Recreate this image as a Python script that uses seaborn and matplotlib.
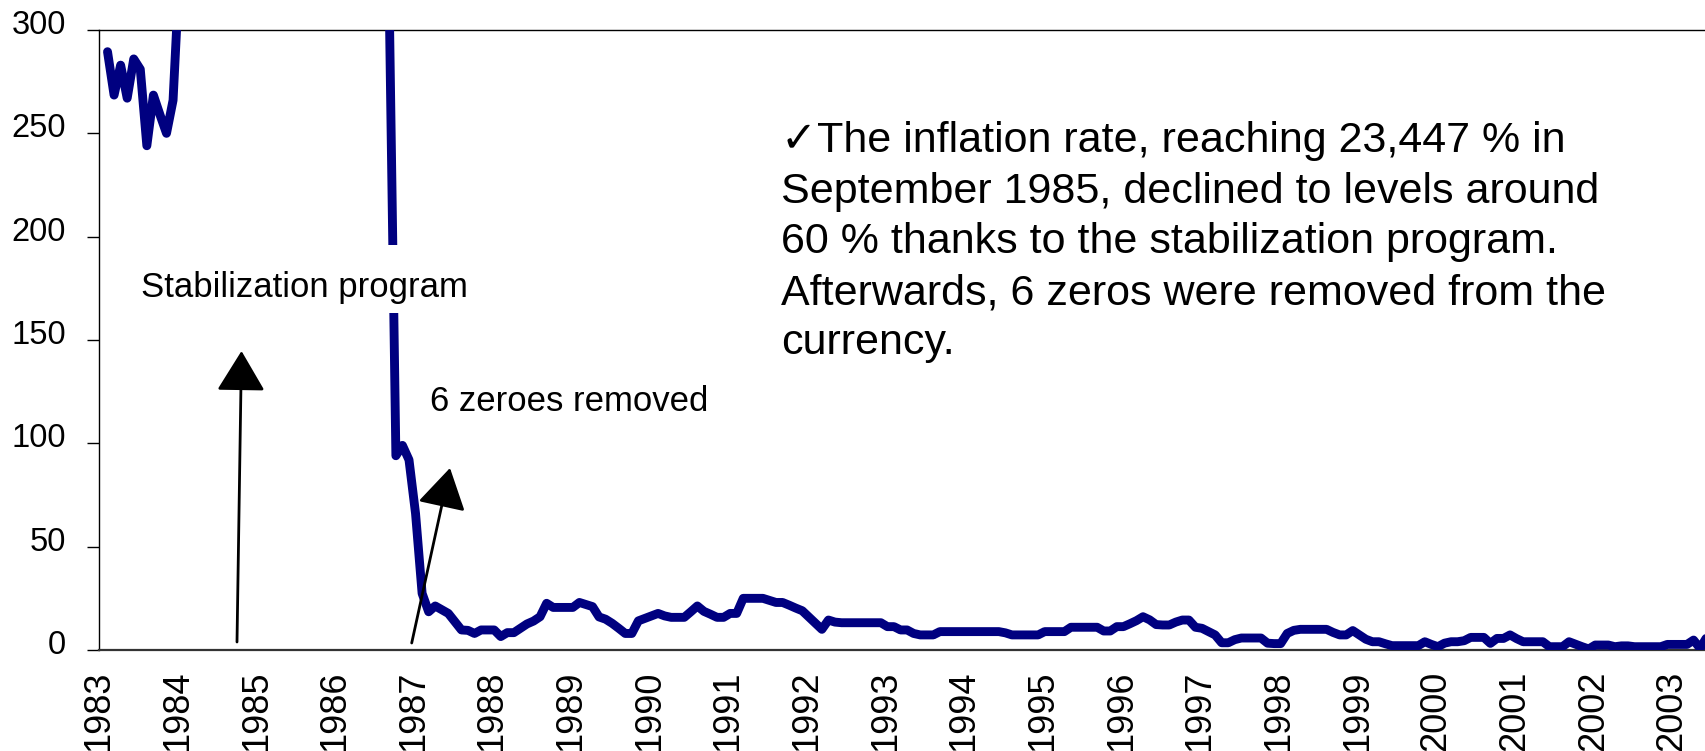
import numpy as np
import pandas as pd
import matplotlib
matplotlib.use("Agg")
import matplotlib.pyplot as plt
import matplotlib.transforms as mtransforms
from matplotlib.patches import ArrowStyle, Rectangle
import seaborn as sns

# ---------------- data (12-month inflation rate, %, monthly from Jan 1983) -------------
infl_1983 = [289.5, 268.5, 283, 267, 286, 281, 244, 268.5, 259, 250, 266, 330]
infl_1984 = [430, 520, 620, 820, 1000, 1200, 1300, 1400, 1500, 1700, 1900, 2177]
infl_1985 = [3000, 5000, 7000, 8000, 9000, 11000, 14000, 20000, 23447, 21000, 14000, 8170]
infl_1986 = [5500, 4000, 3000, 2000, 1500, 1000, 600, 310, 94, 99, 92, 66]
infl_1987 = [27.4, 18.5, 21.3, 19.5, 17.7, 13.7, 9.7, 9.5, 8, 9.7, 9.7, 9.7]
infl_1988 = [6.5, 8.4, 8.4, 10.5, 12.6, 14, 16.1, 22.6, 20.6, 20.6, 20.6, 20.6]
infl_1989 = [23, 22, 21, 16, 14.9, 12.9, 10.5, 8, 8, 14.1, 15.3, 16.5]
infl_1990 = [17.7, 16.5, 15.8, 15.8, 15.8, 18.5, 21.3, 18.7, 17.3, 15.8, 15.8, 17.7]
infl_1991 = [17.7, 25, 25, 25, 25, 24, 23, 23, 21.7, 20.3, 19, 16]
infl_1992 = [13, 10, 14.5, 13.5, 13.2, 13.2, 13.2, 13.2, 13.2, 13.2, 13.2, 11.3]
infl_1993 = [11.3, 9.7, 9.7, 8, 7.3, 7.3, 7.3, 8.9, 8.9, 8.9, 8.9, 8.9]
infl_1994 = [8.9, 8.9, 8.9, 8.9, 8.9, 8.3, 7.3, 7.3, 7.3, 7.3, 7.3, 8.9]
infl_1995 = [8.9, 8.9, 8.9, 11, 11, 11, 11, 11, 9.2, 9.2, 11.3, 11.3]
infl_1996 = [12.7, 14.2, 16.1, 14.6, 12.3, 12.1, 12.1, 13.5, 14.5, 14.5, 11, 10.5]
infl_1997 = [8.9, 7.3, 3.5, 3.5, 5, 5.8, 5.8, 5.8, 5.8, 3.3, 3.1, 3.1]
infl_1998 = [8, 9.5, 10, 10, 10, 10, 10, 8.5, 7.3, 7.3, 9.4, 7.3]
infl_1999 = [5.2, 4, 4, 3, 2.1, 2.1, 2.1, 2.1, 2.1, 4, 2.7, 1.6]
infl_2000 = [3.3, 4, 4, 4.5, 6.1, 6.1, 6.1, 3.2, 5.6, 5.6, 7.3, 5.5]
infl_2001 = [4, 4, 4, 4, 1.6, 1.6, 1.6, 4, 2.8, 1.6, 0.5, 2.4]
infl_2002 = [2.4, 2.4, 1.6, 2.0, 2.0, 1.6, 1.6, 1.6, 1.6, 1.6, 2.7, 2.7]
infl_2003 = [2.7, 2.7, 4.8, 0.8, 6.1]

yearly = [infl_1983, infl_1984, infl_1985, infl_1986, infl_1987, infl_1988, infl_1989,
          infl_1990, infl_1991, infl_1992, infl_1993, infl_1994, infl_1995, infl_1996,
          infl_1997, infl_1998, infl_1999, infl_2000, infl_2001, infl_2002, infl_2003]
inflation = [v for yr in yearly for v in yr]

year_labels = [str(y) for y in range(1983, 2004)]
y_ticks = [0, 50, 100, 150, 200, 250, 300]

text_block = [
    "\u2713The inflation rate, reaching 23,447 % in",
    "September 1985, declined to levels around",
    "60 % thanks to the stabilization program.",
    "Afterwards, 6 zeros were removed from the",
    "currency.",
]

# ---------------- figure -------------
sns.set_theme(style="white")
plt.rcParams["font.family"] = ["Liberation Sans", "DejaVu Sans"]

W, H = 1706, 751
fig = plt.figure(figsize=(W / 100, H / 100), dpi=100)
fig.patch.set_facecolor("white")
ax = fig.add_axes([99 / W, 1 - 650 / H, 1607 / W, 620 / H])

df = pd.DataFrame({"month": np.arange(len(inflation)), "inflation": inflation})
sns.lineplot(data=df, x="month", y="inflation", ax=ax, color="#000080",
             linewidth=6.4, solid_joinstyle="round", solid_capstyle="round", zorder=3)

n = len(inflation)
ax.set_xlim(-1.1, n - 1.1)
ax.set_ylim(0, 300)
ax.set_xlabel("")
ax.set_ylabel("")

ax.set_xticks([12 * k - 1.3 for k in range(len(year_labels))])
ax.set_xticklabels(year_labels, rotation=90, va="top")
ax.tick_params(axis="x", length=0, pad=15, labelsize=26, labelcolor="black")
ax.set_yticks(y_ticks)
ax.set_yticklabels([str(t) for t in y_ticks])
ax.tick_params(axis="y", direction="out", length=8.6, width=1, color="black",
               pad=15, left=True, labelsize=23.5, labelcolor="black")
offset = mtransforms.ScaledTranslation(0, 8 / 100, fig.dpi_scale_trans)
for lab in ax.get_yticklabels():
    lab.set_transform(lab.get_transform() + offset)

for side in ["left", "top"]:
    ax.spines[side].set_visible(True)
    ax.spines[side].set_color("black")
    ax.spines[side].set_linewidth(1.0)
ax.spines["right"].set_visible(False)
ax.spines["bottom"].set_color("#333333")
ax.spines["bottom"].set_linewidth(1.6)
ax.grid(False)

def fx(px):
    return px / W

def fy(py):
    return 1 - py / H

# white text box behind "Stabilization program"
fig.patches.append(Rectangle((fx(130), fy(313)), fx(480) - fx(130), (313 - 245) / H,
                             transform=fig.transFigure, facecolor="white",
                             edgecolor="none", zorder=8))

fig.text(fx(141), fy(297), "Stabilization program", fontsize=25, color="black",
         va="baseline", ha="left", zorder=10)
fig.text(fx(430), fy(411), "6 zeroes removed", fontsize=25, color="black",
         va="baseline", ha="left", zorder=10)

baselines = [152, 203, 253, 304, 354]
for line, b in zip(text_block, baselines):
    fig.text(fx(781), fy(b), line, fontsize=31, color="black",
             va="baseline", ha="left", zorder=10)

# arrows (figure pixel coordinates)
style = ArrowStyle("-|>", head_length=1.26, head_width=0.76)
for tail, tip in [((237, 642), (241.5, 351)), ((411.7, 643), (450, 468))]:
    ax.annotate("", xy=(tip[0], H - tip[1]), xycoords="figure pixels",
                xytext=(tail[0], H - tail[1]), textcoords="figure pixels",
                arrowprops=dict(arrowstyle=style, mutation_scale=20, lw=2.0,
                                color="black", shrinkA=0, shrinkB=0),
                annotation_clip=False, zorder=5)

fig.savefig("out.png", dpi=100, facecolor="white")
